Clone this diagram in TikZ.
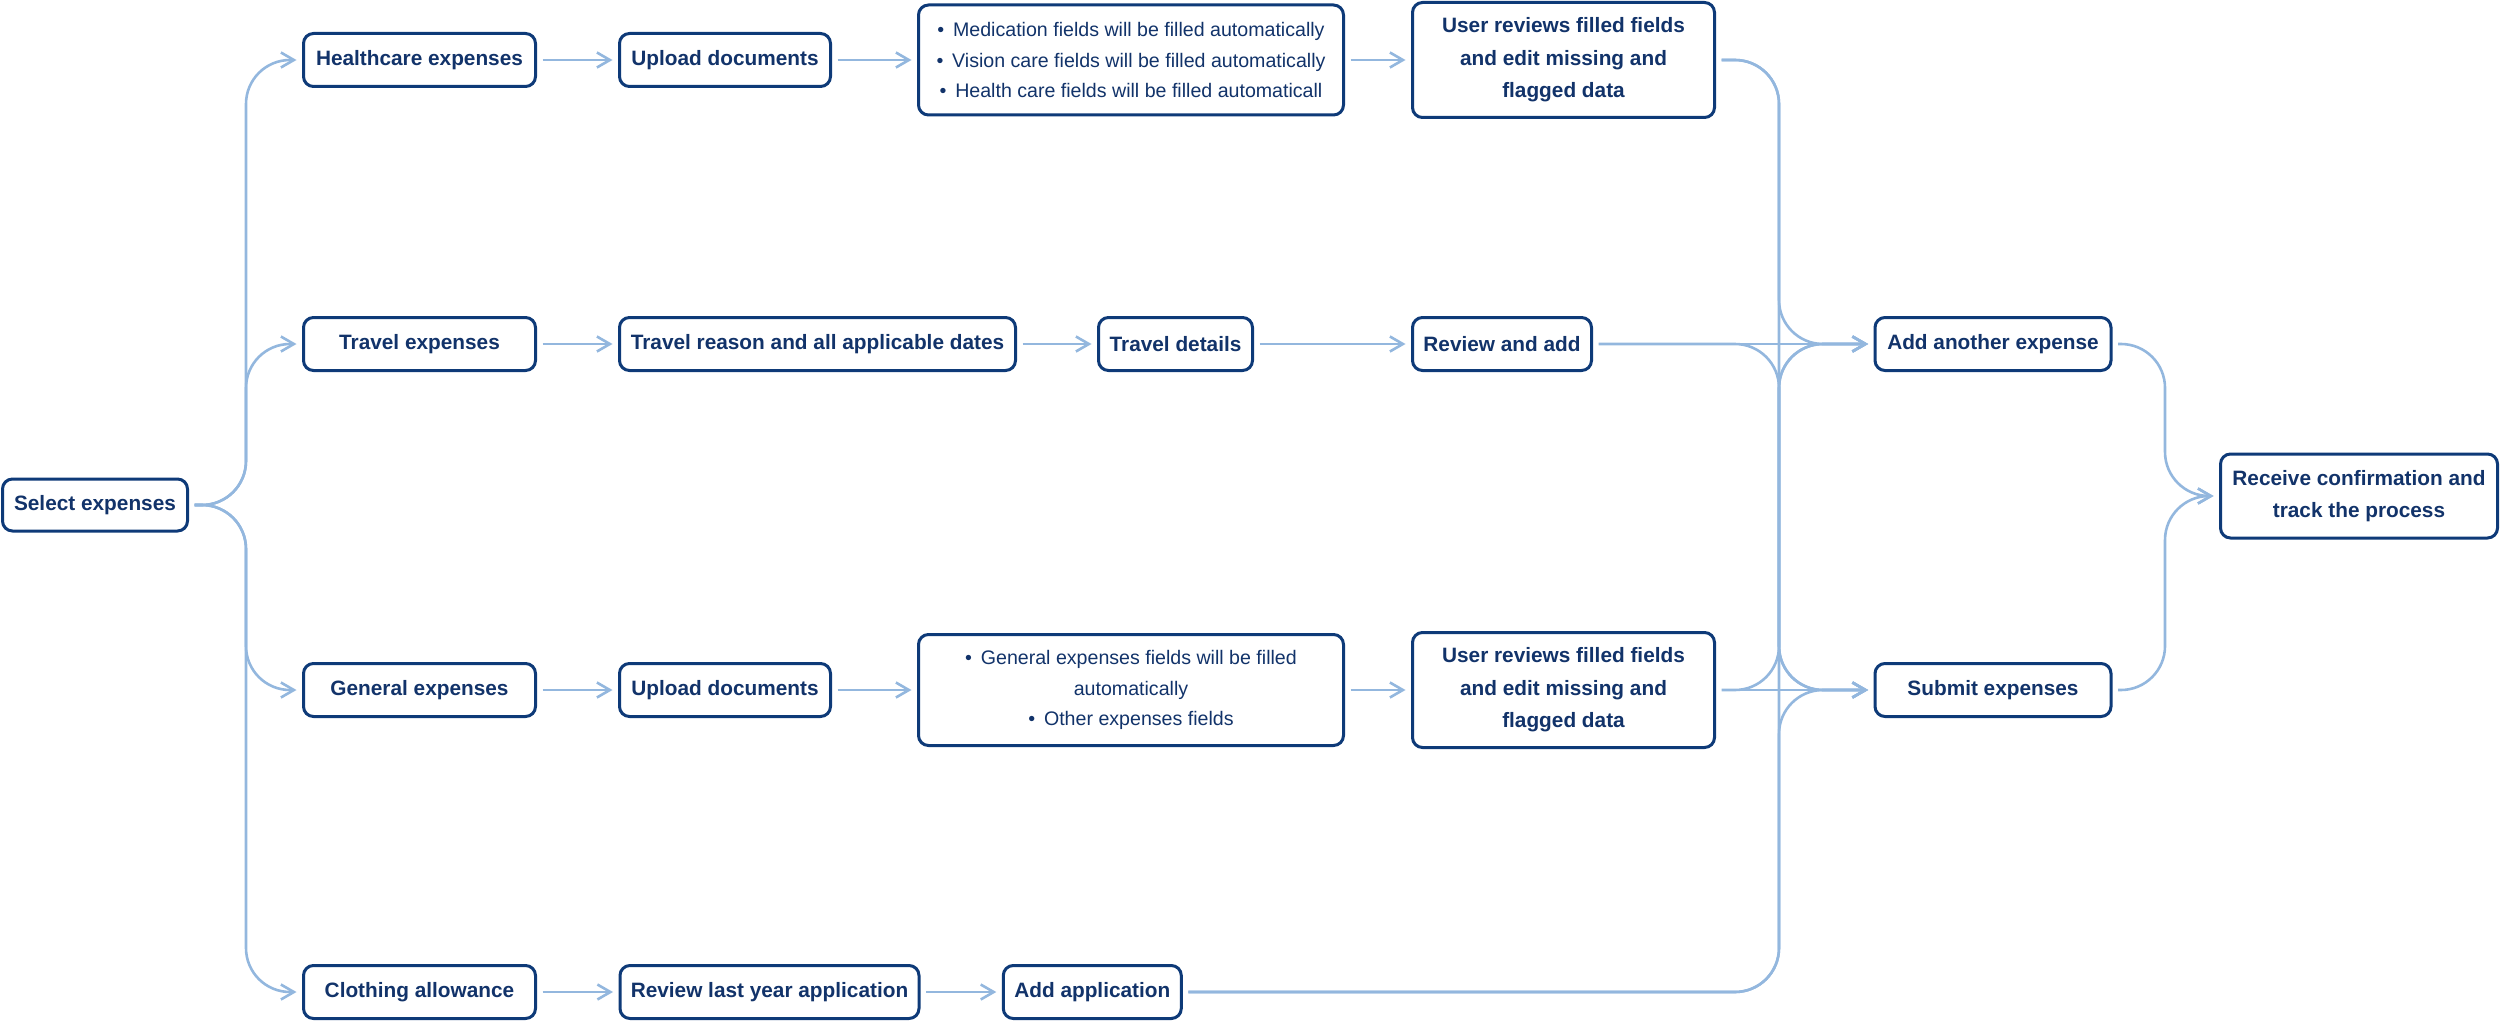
\documentclass[tikz,border=0pt]{standalone}
\usepackage{fontspec}
\setmainfont{Liberation Sans}
\usetikzlibrary{arrows.meta}
\definecolor{boxblue}{HTML}{0E3A78}
\definecolor{txtblue}{HTML}{12336A}
\definecolor{linkblue}{HTML}{93B7DE}
\tikzset{
  stepbox/.style={draw=boxblue, line width=1.5pt, rounded corners=5pt, fill=white,
    text=txtblue, font=\fontsize{10.4}{16.3}\selectfont\bfseries, align=center,
    inner sep=0pt, outer sep=3.5pt, minimum height=26.5pt},
  notebox/.style={stepbox, font=\fontsize{9.8}{15.1}\selectfont},
  link/.style={draw=linkblue, line width=1.3pt, rounded corners=22pt,
    -{Straight Barb[length=6.5pt, width=7.5pt]}},
}
\newcommand{\bul}{\textbullet\hspace{0.45em}}
\begin{document}
\begin{tikzpicture}[x=0.5pt, y=-0.5pt]
  \useasboundingbox (0,0) rectangle (2500,1022);
  \node[stepbox, minimum width=92.5pt, minimum height=26pt] (select) at (95,505) {Select expenses};
  \foreach \nm/\y/\lab in {health/60/Healthcare expenses, travel/344/Travel expenses,
      general/690/General expenses, clothing/992/Clothing allowance}
    \node[stepbox, minimum width=116pt] (\nm) at (419.5,\y) {\lab};
  % healthcare row
  \node[stepbox, minimum width=105.5pt] (upload1) at (725,60) {Upload documents};
  \node[notebox, minimum width=212.5pt, minimum height=55pt] (fields1) at (1131,60)
    {\bul Medication fields will be filled automatically\\
     \bul Vision care fields will be filled automatically\\
     \bul Health care fields will be filled automaticall};
  \node[stepbox, minimum width=151pt, minimum height=57.5pt] (review1) at (1563.5,60)
    {User reviews filled fields\\ and edit missing and\\ flagged data};
  % travel row
  \node[stepbox, minimum width=198pt] (reason) at (817.5,344) {Travel reason and all applicable dates};
  \node[stepbox, minimum width=77pt] (details) at (1175.5,344) {Travel details};
  \node[stepbox, minimum width=89.5pt] (reviewadd) at (1502,344) {Review and add};
  % general row
  \node[stepbox, minimum width=105.5pt] (upload2) at (725,690) {Upload documents};
  \node[notebox, minimum width=212.5pt, minimum height=55.5pt] (fields2) at (1131,690)
    {\bul General expenses fields will be filled\\ automatically\\ \bul Other expenses fields};
  \node[stepbox, minimum width=151pt, minimum height=57.5pt] (review2) at (1563.5,690)
    {User reviews filled fields\\ and edit missing and\\ flagged data};
  % clothing row
  \node[stepbox, minimum width=149.5pt] (lastyear) at (769.5,992) {Review last year application};
  \node[stepbox, minimum width=89pt] (addapp) at (1092.3,992) {Add application};
  % end of flow
  \node[stepbox, minimum width=118pt] (addexp) at (1993,344) {Add another expense};
  \node[stepbox, minimum width=118pt] (submit) at (1993,690) {Submit expenses};
  \node[stepbox, minimum width=138.5pt, minimum height=42pt] (receive) at (2359,496)
    {Receive confirmation and\\ track the process};
  \coordinate (trunkL) at (246,505);
  \coordinate (trunkR) at (1779,505);
  \coordinate (trunkC) at (2165,496);
  \foreach \b in {health, travel, general, clothing}
    \draw[link] (select.east) -| (trunkL |- \b.west) -- (\b.west);
  \foreach \a/\b in {health/upload1, upload1/fields1, fields1/review1,
      travel/reason, reason/details, details/reviewadd, reviewadd/addexp,
      general/upload2, upload2/fields2, fields2/review2, review2/submit,
      clothing/lastyear, lastyear/addapp}
    \draw[link] (\a.east) -- (\b.west);
  \foreach \a/\b in {review1/addexp, review1/submit, reviewadd/submit,
      review2/addexp, addapp/addexp, addapp/submit}
    \draw[link] (\a.east) -| (trunkR |- \b.west) -- (\b.west);
  \foreach \a in {addexp, submit}
    \draw[link] (\a.east) -| (trunkC |- receive.west) -- (receive.west);
\end{tikzpicture}
\end{document}
